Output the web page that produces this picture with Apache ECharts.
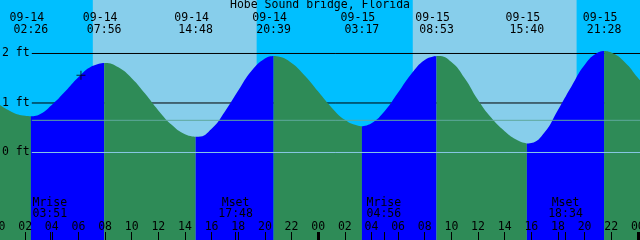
<!DOCTYPE html>
<html><head><meta charset="utf-8">
<script src="https://cdn.jsdelivr.net/npm/echarts@6/dist/echarts.min.js"></script>
<style>html,body{margin:0;padding:0;background:#00BFFF}#c{width:640px;height:240px}</style>
</head><body><div id="c"></div><script>
// ---------- data ----------
const stationTitle = 'Hobe Sound bridge, Florida';
const tideHours   = [0,1,2,2.433,3,4,5,6,7,7.933,8,9,10,11,12,13,14,14.8,15,16,17,18,19,20,20.65,21,22,23,24,25,26,27,27.283,28,29,30,31,32,32.883,33,34,35,36,37,38,39,39.667,40,41,42,43,44,45,45.467,46,47,48,48.16];
const tideHeights = [0.98,0.82,0.74,0.73,0.76,0.96,1.23,1.52,1.74,1.81,1.81,1.72,1.50,1.19,0.85,0.56,0.37,0.32,0.32,0.48,0.83,1.25,1.65,1.90,1.95,1.94,1.81,1.55,1.23,0.91,0.66,0.54,0.53,0.59,0.84,1.21,1.59,1.87,1.95,1.95,1.83,1.50,1.06,0.70,0.43,0.24,0.18,0.19,0.41,0.86,1.33,1.77,2.02,2.05,2.02,1.83,1.51,1.46];
const tideEventDates = ['09-14','09-14','09-14','09-14','09-15','09-15','09-15','09-15'];
const tideEventTimes = ['02:26','07:56','14:48','20:39','03:17','08:53','15:40','21:28'];
const moonEventDates = ['09-14','09-14','09-15','09-15'];
const moonEventNames = ['Mrise','Mset','Mrise','Mset'];
const moonEventTimes = ['03:51','17:48','04:56','18:34'];
const sunriseHours = [7.08, 31.1];
const sunsetHours  = [19.38, 43.4];
const levelTicks = [0, 1, 2];
const blackLevels = [1, 2];
const mslLevel = 0.65;
const datumLevel = 0;
const nowMark = [6.19, 1.56];
const midnightHours = [0, 24, 48];
const xMin = 0, xMax = 48.16;

// ---------- helpers ----------
const FONT = 'DejaVu Sans Mono';
const FS = 11.5;
const C = {night:'#00BFFF', day:'#87CEEB', flood:'#0000FF', ebb:'#2E8B57', msl:'#5FA89C', datum:'#88C8E6'};
const toHour = (d, t) => (d === '09-15' ? 24 : 0) + (+t.slice(0,2)) + (+t.slice(3,5)) / 60;
const tideEventHours = tideEventDates.map((d,i) => toHour(d, tideEventTimes[i]));
const moonEventHours = moonEventDates.map((d,i) => toHour(d, moonEventTimes[i]));
const nearestIdx = (arr, v) => { let b = 0; for (let i = 1; i < arr.length; i++) if (Math.abs(arr[i]-v) < Math.abs(arr[b]-v)) b = i; return b; };
const pad2 = v => String(Math.round(v) % 24).padStart(2, '0');

const TOP = 1; // upper layer
const pts = tideHours.map((h,i) => [h, tideHeights[i]]);
const bounds = [tideHours[0], ...tideEventHours, tideHours[tideHours.length-1]];
const tideSeries = [];
for (let k = 0; k < bounds.length - 1; k++) {
  const seg = pts.filter(p => p[0] >= bounds[k] - 0.01 && p[0] <= bounds[k+1] + 0.01);
  const rising = seg[seg.length-1][1] > seg[0][1];
  tideSeries.push({
    type:'line', xAxisIndex:0, yAxisIndex:0, data: seg, smooth: 0.5,
    symbol:'none', silent:true, zlevel:TOP, z:3, lineStyle:{opacity:0, width:0},
    areaStyle:{color: rising ? C.flood : C.ebb, opacity:1, origin:'start'}
  });
}
const lineStartHour = 2.5;
const levelSeries = (v, color, zlevel, z) => ({
  type:'line', xAxisIndex:0, yAxisIndex:0, data:[[lineStartHour, v],[xMax, v]], symbol:'none',
  silent:true, zlevel:zlevel, z:z, lineStyle:{color:color, width:1}
});

const txt = {fontFamily:FONT, fontSize:FS, color:'#000', fontWeight:'normal'};

const option = {
  animation:false,
  backgroundColor: C.night,
  title:{text:stationTitle, left:'center', top:-0.5, padding:0, zlevel:TOP, z:10, textStyle:Object.assign({lineHeight:12}, txt)},
  grid:[
    {left:-1.5, right:0, top:0, bottom:-11.5, containLabel:false, outerBoundsMode:'none'},
    {left:-1.5, right:0, top:0, bottom:0, containLabel:false, outerBoundsMode:'none'}
  ],
  xAxis:[
    {gridIndex:0, type:'value', min:xMin, max:xMax, show:false},
    {gridIndex:1, type:'value', min:xMin, max:xMax, interval:2, position:'bottom', zlevel:TOP, z:10,
      axisLine:{show:false, onZero:false}, splitLine:{show:false},
      axisTick:{show:true, inside:true, length:8, lineStyle:{color:'#000', width:1}},
      axisLabel:Object.assign({show:true, inside:true, margin:7, interval:0, showMinLabel:true, showMaxLabel:false,
        formatter: v => pad2(v)}, txt)},
    {gridIndex:1, type:'value', min:xMin, max:xMax, position:'bottom', zlevel:TOP, z:10,
      axisLine:{show:false, onZero:false}, splitLine:{show:false},
      axisTick:{show:true, inside:true, length:8, customValues:moonEventHours, lineStyle:{color:'#000', width:1}},
      axisLabel:Object.assign({show:true, inside:true, margin:20, lineHeight:11, customValues:moonEventHours,
        showMinLabel:true, showMaxLabel:true,
        formatter: v => { const i = nearestIdx(moonEventHours, v); return moonEventNames[i] + '\n' + moonEventTimes[i]; }}, txt)},
    {gridIndex:1, type:'value', min:xMin, max:xMax, position:'bottom', zlevel:TOP, z:10,
      axisLine:{show:false, onZero:false}, splitLine:{show:false},
      axisTick:{show:true, inside:true, length:8, customValues:midnightHours, lineStyle:{color:'#000', width:3}},
      axisLabel:{show:false}},
    {gridIndex:1, type:'value', min:xMin, max:xMax, position:'top', zlevel:TOP, z:10,
      axisLine:{show:false, onZero:false}, splitLine:{show:false}, axisTick:{show:false},
      axisLabel:Object.assign({show:true, inside:true, margin:12, customValues:tideEventHours,
        showMinLabel:true, showMaxLabel:true,
        formatter: v => { const i = nearestIdx(tideEventHours, v); return '{d|' + tideEventDates[i] + '}\n{t|' + tideEventTimes[i] + '}'; },
        rich:{
          d:Object.assign({lineHeight:12, padding:[0,8,0,0]}, txt),
          t:Object.assign({lineHeight:12}, txt)
        }}, txt)}
  ],
  yAxis:[
    {gridIndex:0, type:'value', min:-2, max:3.0808, interval:1, position:'left', zlevel:TOP, z:10,
      axisLine:{show:false}, axisTick:{show:false}, splitLine:{show:false},
      axisLabel:Object.assign({show:true, inside:true, margin:3.5, showMinLabel:true, showMaxLabel:true,
        formatter: v => (Math.abs(v - Math.round(v)) < 1e-6 && levelTicks.includes(Math.round(v))) ? Math.round(v) + ' ft' : ''}, txt)},
    {gridIndex:1, type:'value', min:1, max:2, show:false}
  ],
  series:[
    {type:'line', xAxisIndex:0, yAxisIndex:0, data:[[xMin,-2]], symbol:'none', silent:true, zlevel:0, z:1,
      lineStyle:{opacity:0},
      markArea:{silent:true, itemStyle:{color:C.day, opacity:1, borderWidth:0},
        data: sunriseHours.map((s,i) => [{xAxis:s},{xAxis:sunsetHours[i]}])}},
    ...blackLevels.map(v => levelSeries(v, '#000', 0, 2)),
    ...tideSeries,
    levelSeries(mslLevel, C.msl, TOP, 4),
    levelSeries(datumLevel, C.datum, TOP, 4),
    {type:'scatter', xAxisIndex:0, yAxisIndex:0, data:[nowMark], zlevel:TOP, z:5, silent:true,
      symbol:'path://M0,4h9v1h-9zM4,0h1v9h-1z', symbolSize:9, itemStyle:{color:'#000'}}
  ]
};
const chart = echarts.init(document.getElementById('c'), null, {renderer:'canvas'});
chart.setOption(option);
</script></body></html>
